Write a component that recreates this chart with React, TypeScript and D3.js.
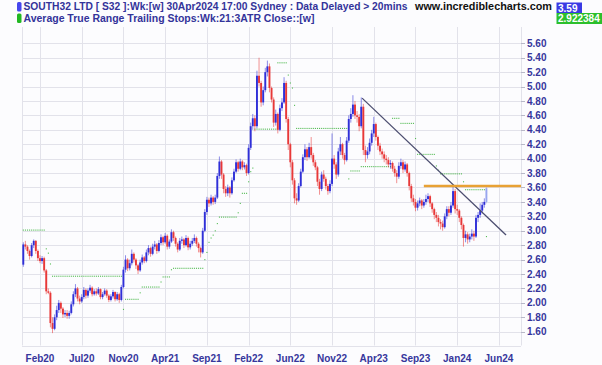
import React, { useEffect, useRef } from "react";
import * as d3 from "d3";

// weekly bars, SOUTH32 (S32), Dec 2019 .. 30 Apr 2024
const firstOpen = 2.53;

const closes = [
  2.81, 2.78, 2.72, 2.65, 2.8, 2.86, 2.72, 2.62, 2.58, 2.62,
  2.45, 2.16, 2.14, 1.72, 1.64, 1.8, 1.9, 2.0, 1.92, 1.84,
  1.86, 1.82, 1.86, 1.98, 2.12, 2.2, 2.06, 2.02, 2.08, 2.18,
  2.1, 2.17, 2.21, 2.12, 2.16, 2.13, 2.19, 2.08, 2.12, 2.17,
  2.1, 2.04, 2.09, 2.15, 2.05, 2.12, 2.04, 2.22, 2.46, 2.6,
  2.48, 2.55, 2.68, 2.6, 2.52, 2.45, 2.56, 2.63, 2.58, 2.7,
  2.76, 2.68, 2.78, 2.81, 2.72, 2.83, 2.91, 2.84, 2.93, 2.78,
  2.85, 2.98, 2.9, 2.82, 2.74, 2.86, 2.88, 2.8, 2.9, 2.77,
  2.82, 2.86, 2.9, 2.82, 2.76, 2.7, 3.0, 3.26, 3.43, 3.38,
  3.46, 3.4, 3.46, 3.76, 3.96, 3.78, 3.58, 3.52, 3.6, 3.52,
  3.7, 3.82, 3.95, 3.86, 3.96, 3.88, 3.91, 3.8, 4.15, 4.45,
  4.56, 4.45, 5.15, 5.05, 4.78, 4.95, 5.2, 5.28, 4.98, 4.82,
  4.5, 4.62, 4.4, 4.7, 4.78, 5.05, 4.55, 4.2, 3.95, 3.7,
  3.45, 3.42, 3.62, 3.82, 4.02, 4.13, 4.02, 4.16, 4.05, 3.95,
  3.88, 3.68, 3.58, 3.78, 3.72, 3.62, 3.55, 3.65, 4.0, 3.92,
  3.78, 4.1, 4.2, 4.05, 3.98, 4.25, 4.55, 4.62, 4.75, 4.6,
  4.58, 4.45, 4.72, 4.12, 4.05, 4.1, 4.22, 4.35, 4.48, 4.3,
  4.18, 4.1, 4.06, 4.0, 3.98, 3.92, 3.94, 3.86, 3.8, 3.75,
  3.9, 3.95, 3.85, 3.92, 3.8, 3.62, 3.45, 3.4, 3.32, 3.38,
  3.42, 3.35, 3.4, 3.44, 3.48, 3.38, 3.3, 3.22, 3.18, 3.12,
  3.1, 3.05, 3.2, 3.3, 3.25, 3.35, 3.55, 3.3, 3.28, 3.18,
  3.08, 2.9, 2.95, 2.88, 2.92, 2.96, 2.92, 3.18, 3.22, 3.28,
  3.36, 3.4, 3.59,
];

const highs = [
  2.84, 2.86, 2.8, 2.74, 2.83, 2.88, 2.87, 2.74, 2.66, 2.65,
  2.64, 2.47, 2.2, 2.16, 1.8, 1.84, 1.96, 2.04, 2.02, 1.94,
  1.9, 1.9, 1.89, 2.02, 2.16, 2.26, 2.22, 2.1, 2.12, 2.22,
  2.2, 2.2, 2.25, 2.23, 2.19, 2.2, 2.22, 2.2, 2.15, 2.2,
  2.19, 2.12, 2.12, 2.18, 2.16, 2.15, 2.14, 2.25, 2.5, 2.66,
  2.62, 2.6, 2.74, 2.7, 2.62, 2.54, 2.6, 2.67, 2.65, 2.74,
  2.8, 2.78, 2.82, 2.86, 2.83, 2.87, 2.95, 2.93, 2.97, 2.95,
  2.88, 3.02, 3.0, 2.92, 2.84, 2.9, 2.92, 2.9, 2.94, 2.92,
  2.86, 2.9, 2.95, 2.92, 2.84, 2.78, 3.04, 3.3, 3.47, 3.46,
  3.5, 3.48, 3.5, 3.8, 4.03, 3.98, 3.8, 3.62, 3.64, 3.62,
  3.74, 3.86, 3.99, 3.97, 4.0, 3.98, 3.95, 3.93, 4.2, 4.5,
  4.62, 4.6, 5.22, 5.4, 5.08, 5.0, 5.26, 5.36, 5.32, 5.0,
  4.85, 4.68, 4.64, 4.75, 4.84, 5.13, 5.08, 4.58, 4.22, 3.98,
  3.73, 3.52, 3.66, 3.86, 4.06, 4.2, 4.16, 4.22, 4.3, 4.08,
  3.98, 3.9, 3.72, 3.82, 3.84, 3.75, 3.65, 3.7, 4.35, 4.05,
  3.95, 4.15, 4.3, 4.22, 4.08, 4.3, 4.6, 4.7, 4.88, 4.8,
  4.66, 4.62, 4.85, 4.76, 4.18, 4.16, 4.28, 4.4, 4.58, 4.5,
  4.32, 4.22, 4.14, 4.1, 4.05, 4.02, 3.98, 3.96, 3.9, 3.84,
  3.95, 4.0, 3.98, 3.96, 3.94, 3.82, 3.65, 3.5, 3.44, 3.42,
  3.46, 3.44, 3.44, 3.5, 3.52, 3.5, 3.4, 3.32, 3.26, 3.22,
  3.16, 3.14, 3.24, 3.34, 3.34, 3.4, 3.63, 3.58, 3.36, 3.3,
  3.2, 3.1, 3.0, 2.98, 2.96, 3.02, 3.0, 3.22, 3.26, 3.38,
  3.4, 3.45, 3.62,
];

const lows = [
  2.5, 2.74, 2.68, 2.6, 2.63, 2.76, 2.68, 2.58, 2.55, 2.54,
  2.42, 2.12, 2.12, 1.66, 1.58, 1.62, 1.76, 1.86, 1.86, 1.79,
  1.8, 1.78, 1.78, 1.84, 1.95, 2.08, 2.02, 1.98, 2.0, 2.05,
  2.06, 2.07, 2.14, 2.09, 2.1, 2.1, 2.11, 2.05, 2.05, 2.1,
  2.07, 2.01, 2.02, 2.06, 2.02, 2.03, 2.0, 2.02, 2.2, 2.42,
  2.44, 2.45, 2.52, 2.56, 2.47, 2.4, 2.43, 2.53, 2.55, 2.56,
  2.66, 2.64, 2.66, 2.74, 2.68, 2.7, 2.8, 2.8, 2.82, 2.74,
  2.75, 2.83, 2.86, 2.78, 2.7, 2.72, 2.82, 2.76, 2.78, 2.73,
  2.74, 2.79, 2.83, 2.78, 2.7, 2.63, 2.68, 2.98, 3.22, 3.33,
  3.35, 3.36, 3.37, 3.44, 3.72, 3.72, 3.52, 3.47, 3.48, 3.46,
  3.5, 3.68, 3.8, 3.82, 3.84, 3.84, 3.85, 3.76, 3.78, 4.12,
  4.4, 4.38, 4.42, 5.0, 4.72, 4.74, 4.92, 5.14, 4.92, 4.78,
  4.44, 4.46, 4.35, 4.38, 4.66, 4.76, 4.5, 4.12, 3.88, 3.64,
  3.38, 3.36, 3.4, 3.6, 3.8, 3.98, 3.97, 4.0, 4.0, 3.9,
  3.84, 3.62, 3.5, 3.55, 3.68, 3.57, 3.5, 3.52, 3.62, 3.86,
  3.72, 3.75, 4.05, 4.0, 3.92, 3.96, 4.22, 4.5, 4.58, 4.55,
  4.5, 4.38, 4.42, 4.05, 3.95, 4.0, 4.06, 4.18, 4.3, 4.25,
  4.12, 4.05, 4.0, 3.95, 3.92, 3.88, 3.86, 3.82, 3.75, 3.66,
  3.72, 3.86, 3.8, 3.82, 3.75, 3.56, 3.4, 3.35, 3.27, 3.28,
  3.34, 3.3, 3.32, 3.36, 3.4, 3.33, 3.25, 3.16, 3.12, 3.06,
  3.02, 3.0, 3.03, 3.16, 3.2, 3.22, 3.32, 3.24, 3.22, 3.12,
  3.02, 2.78, 2.84, 2.82, 2.84, 2.88, 2.86, 2.9, 3.12, 3.18,
  3.24, 3.32, 3.38,
];

// ATR trailing stop (21, 3ATR), one value per bar
const stops = [
  3.01, 3.01, 3.01, 3.01, 3.01, 3.01, 3.01, 3.01, 3.01, 3.01,
  3.01, 2.75, 2.69, 2.54, 2.37, 2.37, 2.37, 2.37, 2.37, 2.37,
  2.37, 2.37, 2.37, 2.37, 2.37, 2.37, 2.37, 2.37, 2.37, 2.37,
  2.37, 2.37, 2.37, 2.37, 2.37, 2.37, 2.37, 2.37, 2.37, 2.37,
  2.37, 2.37, 2.37, 2.37, 2.37, 2.37, 2.37, 2.37, 1.91, 2.05,
  2.05, 2.05, 2.05, 2.05, 2.05, 2.05, 2.14, 2.22, 2.22, 2.22,
  2.22, 2.22, 2.22, 2.22, 2.22, 2.22, 2.29, 2.36, 2.36, 2.36,
  2.36, 2.46, 2.48, 2.48, 2.48, 2.48, 2.48, 2.48, 2.48, 2.48,
  2.48, 2.48, 2.48, 2.48, 2.48, 2.48, 2.48, 2.6, 2.7, 2.84,
  2.9, 2.94, 3.0, 3.1, 3.19, 3.19, 3.19, 3.19, 3.19, 3.19,
  3.19, 3.19, 3.19, 3.25, 3.38, 3.52, 3.52, 3.52, 3.68, 3.82,
  3.87, 4.41, 4.41, 4.41, 4.41, 4.41, 4.41, 4.41, 4.41, 4.41,
  4.41, 4.41, 5.33, 5.33, 5.33, 5.33, 5.33, 5.16, 5.05, 4.98,
  4.74, 4.42, 4.42, 4.42, 4.42, 4.42, 4.42, 4.42, 4.42, 4.42,
  4.42, 4.42, 4.42, 4.42, 4.42, 4.42, 4.42, 4.42, 4.42, 4.42,
  4.42, 4.42, 4.42, 4.42, 4.42, 4.42, 3.72, 3.83, 3.83, 3.83,
  3.83, 3.83, 3.89, 3.89, 3.89, 3.89, 3.89, 3.89, 3.89, 3.89,
  3.89, 3.89, 3.89, 3.89, 3.89, 3.89, 3.89, 4.56, 4.56, 4.56,
  4.56, 4.49, 4.49, 4.49, 4.49, 4.49, 4.49, 4.49, 4.28, 4.06,
  4.06, 4.06, 4.06, 4.06, 4.06, 4.06, 4.06, 4.06, 3.9, 3.84,
  3.79, 3.79, 3.79, 3.79, 3.79, 3.79, 3.79, 3.79, 3.79, 3.79,
  3.79, 3.68, 3.57, 3.57, 3.57, 3.57, 3.57, 3.57, 3.57, 3.57,
  3.57, 3.57, 2.92,
];

const xTickBars = [8, 28, 48, 68, 88, 108, 128, 148, 168, 188, 208, 228];
const xTickLabels = ["Feb20", "Jul20", "Nov20", "Apr21", "Sep21", "Feb22", "Jun22", "Nov22", "Apr23", "Sep23", "Jan24", "Jun24"];
const yTicks = [1.6, 1.8, 2.0, 2.2, 2.4, 2.6, 2.8, 3.0, 3.2, 3.4, 3.6, 3.8, 4.0, 4.2, 4.4, 4.6, 4.8, 5.0, 5.2, 5.4, 5.6];

// drawn lines: down trendline and resistance
const trendLine = [
  { bar: 162.4, value: 4.84 },
  { bar: 231.4, value: 2.94 },
];
const resistanceStart = 192;
const resistanceValue = 3.62;

function App() {
  const svgRef = useRef(null);

  useEffect(() => {
    const svg = d3.select(svgRef.current);
    svg.selectAll("*").remove();
    const W = 602;
    const H = 365;
    const plot = { left: 22, right: 521, top: 27, bottom: 345.5 };
    const font = "'Liberation Sans', Arial, sans-serif";
    const blue = "#2f2fd8";
    const red = "#e83838";
    const axisText = "#36369c";

    const x = d3.scaleLinear().domain([0, 238]).range([23.3, 519.8]);
    const y = d3.scaleLinear().domain([1.6, 5.6]).range([331.7, 43.3]);

    svg.append("rect").attr("width", W).attr("height", H).attr("fill", "#fcfcfe");

    // grid
    const grid = svg.append("g").attr("stroke", "#e2e2ea").attr("stroke-width", 1);
    yTicks.concat([1.4]).forEach((v) => {
      grid.append("line")
        .attr("x1", plot.left).attr("x2", plot.right)
        .attr("y1", Math.round(y(v)) + 0.5).attr("y2", Math.round(y(v)) + 0.5);
    });
    xTickBars.forEach((b) => {
      grid.append("line")
        .attr("x1", Math.round(x(b)) + 0.5).attr("x2", Math.round(x(b)) + 0.5)
        .attr("y1", plot.top).attr("y2", plot.bottom);
    });
    grid.append("line").attr("x1", plot.left + 0.5).attr("x2", plot.left + 0.5).attr("y1", plot.top).attr("y2", plot.bottom);
    grid.append("line").attr("x1", plot.right + 0.5).attr("x2", plot.right + 0.5).attr("y1", plot.top).attr("y2", plot.bottom);

    // right axis
    const ax = svg.append("g");
    yTicks.forEach((v) => {
      ax.append("line")
        .attr("x1", plot.right).attr("x2", plot.right + 4)
        .attr("y1", Math.round(y(v)) + 0.5).attr("y2", Math.round(y(v)) + 0.5)
        .attr("stroke", "#b8b8c8");
      ax.append("text")
        .attr("x", plot.right + 6).attr("y", y(v) + 3.6)
        .attr("font-family", font).attr("font-size", 10).attr("font-weight", "bold")
        .attr("fill", axisText)
        .text(v.toFixed(2));
    });

    // bottom axis labels
    xTickBars.forEach((b, k) => {
      svg.append("text")
        .attr("x", x(b)).attr("y", 362)
        .attr("text-anchor", "middle")
        .attr("font-family", font).attr("font-size", 10).attr("font-weight", "bold")
        .attr("fill", axisText)
        .text(xTickLabels[k]);
    });

    const g = svg.append("g");

    // ATR trailing stop dots
    g.selectAll(".stop")
      .data(stops)
      .enter()
      .append("rect")
      .attr("x", (d, i) => x(i) - 0.5)
      .attr("y", (d) => y(d) - 0.5)
      .attr("width", 1.1)
      .attr("height", 1.1)
      .attr("fill", "#52bb52");

    // candles
    const bars = closes.map((c, i) => ({
      i,
      open: i === 0 ? firstOpen : closes[i - 1],
      close: c,
      high: highs[i],
      low: lows[i],
    }));
    const colour = (d) =>
      d.i === bars.length - 1 ? "#98a6ee" : d.close >= d.open ? blue : red;

    g.selectAll(".wick")
      .data(bars)
      .enter()
      .append("line")
      .attr("x1", (d) => x(d.i)).attr("x2", (d) => x(d.i))
      .attr("y1", (d) => y(d.high)).attr("y2", (d) => y(d.low))
      .attr("stroke", colour)
      .attr("stroke-opacity", 0.55)
      .attr("stroke-width", 1);

    g.selectAll(".body")
      .data(bars)
      .enter()
      .append("rect")
      .attr("x", (d) => x(d.i) - 0.95)
      .attr("width", 1.9)
      .attr("y", (d) => y(Math.max(d.open, d.close)))
      .attr("height", (d) => Math.max(1, Math.abs(y(d.open) - y(d.close))))
      .attr("fill", colour);

    // trendline
    g.append("line")
      .attr("x1", x(trendLine[0].bar)).attr("y1", y(trendLine[0].value))
      .attr("x2", x(trendLine[1].bar)).attr("y2", y(trendLine[1].value))
      .attr("stroke", "#4c4e70")
      .attr("stroke-width", 1.3);

    // resistance
    g.append("line")
      .attr("x1", x(resistanceStart)).attr("x2", plot.right)
      .attr("y1", y(resistanceValue)).attr("y2", y(resistanceValue))
      .attr("stroke", "#e8a134")
      .attr("stroke-width", 2.4);

    // header
    const head = svg.append("g").attr("font-family", font).attr("font-weight", "bold");
    head.append("rect").attr("x", 17).attr("y", 2).attr("width", 4.5).attr("height", 9.5).attr("rx", 1.5).attr("fill", "#4646ee");
    head.append("rect").attr("x", 17).attr("y", 13.5).attr("width", 4.5).attr("height", 9.5).attr("rx", 1.5).attr("fill", "#22b822");
    head.append("text")
      .attr("x", 23.5).attr("y", 10.3)
      .attr("font-size", 10.5).attr("fill", "#33339a")
      .attr("textLength", 384).attr("lengthAdjust", "spacingAndGlyphs")
      .text("SOUTH32 LTD [ S32 ]:Wk:[w]  30Apr2024 17:00 Sydney : Data Delayed > 20mins");
    head.append("text")
      .attr("x", 23.5).attr("y", 21.6)
      .attr("font-size", 10.5).attr("fill", "#33339a")
      .attr("textLength", 291).attr("lengthAdjust", "spacingAndGlyphs")
      .text("Average True Range Trailing Stops:Wk:21:3ATR Close::[w]");
    head.append("text")
      .attr("x", 415).attr("y", 10.3)
      .attr("font-size", 11).attr("fill", "#111")
      .attr("textLength", 137).attr("lengthAdjust", "spacingAndGlyphs")
      .text("www.incrediblecharts.com");

    head.append("rect").attr("x", 556.5).attr("y", 2.5).attr("width", 25.5).attr("height", 10.5).attr("fill", "#3a3ae4");
    head.append("text").attr("x", 558).attr("y", 11.6).attr("font-size", 10).attr("fill", "#fff").text("3.59");
    head.append("rect").attr("x", 556.5).attr("y", 13).attr("width", 45.5).attr("height", 11).attr("fill", "#2cbf2c");
    head.append("text").attr("x", 558).attr("y", 22.3).attr("font-size", 10).attr("fill", "#fff").text("2.922384");
  }, []);

  return (
    <svg
      ref={svgRef}
      width={602}
      height={365}
      style={{ position: "absolute", left: 0, top: 0 }}
    ></svg>
  );
}

export default App;
